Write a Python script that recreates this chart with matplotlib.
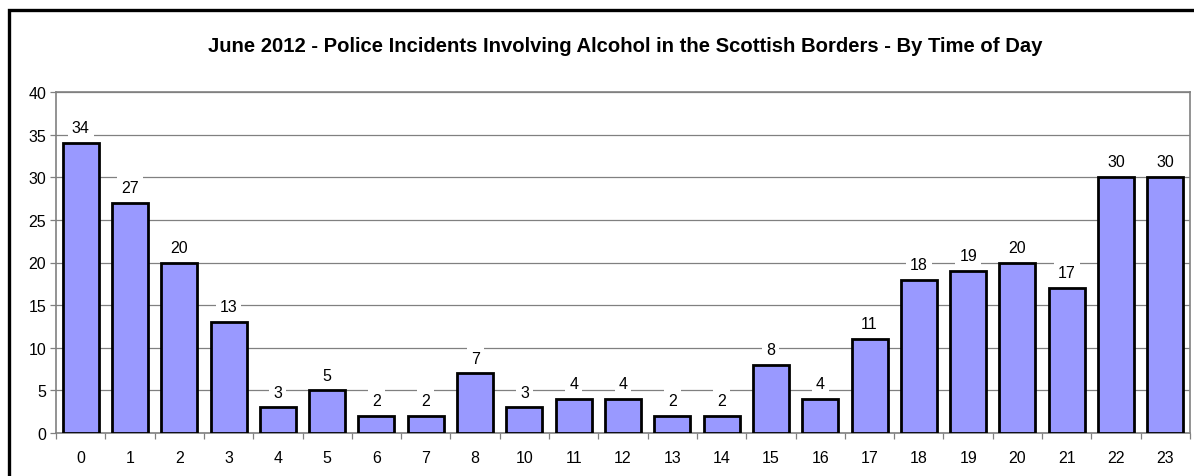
import matplotlib
matplotlib.use("Agg")
import matplotlib.pyplot as plt
from matplotlib.patches import Rectangle

hours = ["0", "1", "2", "3", "4", "5", "6", "7", "8", "10", "11", "12", "13", "14",
         "15", "16", "17", "18", "19", "20", "21", "22", "23"]
incidents = [34, 27, 20, 13, 3, 5, 2, 2, 7, 3, 4, 4, 2, 2, 8, 4, 11, 18, 19, 20, 17, 30, 30]
title = "June 2012 - Police Incidents Involving Alcohol in the Scottish Borders - By Time of Day"

plt.rcParams['font.family'] = ['Liberation Sans', 'DejaVu Sans']

fig = plt.figure(figsize=(11.94, 4.77), dpi=100)
fig.patches.append(Rectangle((9/1194, -0.1), 1.2, 1 - 11/477 + 0.1, transform=fig.transFigure,
                             fill=False, edgecolor='black', linewidth=2.4, zorder=0))

ax = fig.add_axes([56/1194, 1 - 434/477, (1190 - 56)/1194, (434 - 93)/477])
x = list(range(len(hours)))
bars = ax.bar(x, incidents, width=0.73, color='#9999FF', edgecolor='black', linewidth=2, zorder=3)

ax.set_xlim(-0.5, len(hours) - 0.5)
ax.set_ylim(0, 40)
ax.set_yticks(range(0, 41, 5))
ax.yaxis.grid(True, color='#808080', linewidth=0.9, zorder=0)
ax.set_axisbelow(True)

ax.set_xticks([i + 0.5 for i in range(-1, len(hours))])
ax.set_xticklabels([])
ax.set_xticks(x, minor=True)
ax.set_xticklabels(hours, minor=True)
ax.tick_params(axis='x', which='major', length=4, width=0.9, color='#808080', direction='out')
ax.tick_params(axis='x', which='minor', length=0, pad=12, labelsize=11.5)
ax.tick_params(axis='y', length=4, width=0.9, color='#808080', labelsize=11.5, pad=3)

for s in ['top', 'right', 'left', 'bottom']:
    ax.spines[s].set_color('#808080')
    ax.spines[s].set_linewidth(1.2)

for xi, v in zip(x, incidents):
    ax.annotate(str(v), (xi, v), xytext=(0, 11), textcoords='offset points',
                ha='center', va='center', fontsize=11.5,
                bbox=dict(boxstyle='square,pad=0.25', facecolor='white', edgecolor='none'),
                zorder=4)

fig.text(625/1194, 1 - 47/477, title, ha='center', va='center', fontsize=14.6, fontweight='bold')

fig.savefig('out.png', dpi=100)
